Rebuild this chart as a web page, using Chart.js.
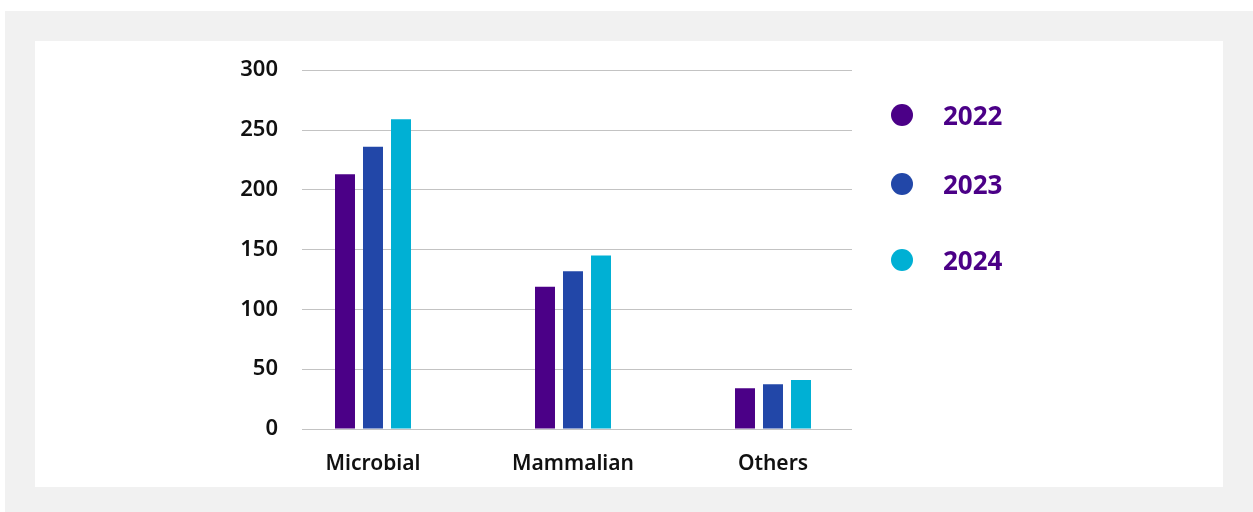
<!DOCTYPE html>
<html>
<head>
<meta charset="utf-8">
<script src="https://cdn.jsdelivr.net/npm/chart.js@4"></script>
<style>
  html, body { margin: 0; padding: 0; background: #fff; }
  body { width: 1253px; height: 512px; position: relative; overflow: hidden; font-family: "Noto Sans", sans-serif; }
  .frame { position: absolute; left: 5px; top: 11px; width: 1248px; height: 501px; background: #f1f1f1; }
  .panel { position: absolute; left: 35px; top: 41px; width: 1188px; height: 446px; background: #fff; }
  /* canvas starts a little above the panel: the y-axis tick padding also pads the top of the plot */
  .panel canvas { position: absolute; left: 0; top: -8px; }
  .legend { position: absolute; left: 856px; top: 0; }
  .legend-item { position: absolute; left: 0; height: 30px; display: flex; align-items: center; white-space: nowrap; }
  .legend-dot { width: 22px; height: 22px; border-radius: 50%; margin-left: 0; }
  .legend-text { margin-left: 30px; font-size: 26px; font-weight: 700; color: #4b0087; }
</style>
</head>
<body>
<div class="frame"></div>
<div class="panel">
  <canvas id="chart" width="1188" height="454"></canvas>
  <div class="legend" id="legend"></div>
</div>
<script>
const categories = ['Microbial', 'Mammalian', 'Others'];
const years = ['2022', '2023', '2024'];
const values2022 = [213, 119, 34];
const values2023 = [236, 132, 37.5];
const values2024 = [259, 145, 41];
const yTicks = [0, 50, 100, 150, 200, 250, 300];
const colors = ['#4b0087', '#2247a8', '#00b0d4'];

const seriesValues = [values2022, values2023, values2024];

// bars sit on a numeric x axis so the groups can be spaced independently of the plot width
const datasets = years.map((year, s) => ({
  label: year,
  data: seriesValues[s].map((v, i) => ({ x: i, y: v })),
  backgroundColor: colors[s],
  borderWidth: 0,
  categoryPercentage: 0.42,
  barPercentage: 0.714
}));

const xFont = { family: 'Noto Sans', size: 21, weight: '600' };
const yFont = { family: 'Noto Sans', size: 22, weight: '600' };

const chart = new Chart(document.getElementById('chart'), {
  type: 'bar',
  data: { datasets: datasets },
  options: {
    responsive: false,
    animation: false,
    layout: { padding: { top: 0, right: 371, left: 0, bottom: 0 } },
    plugins: { legend: { display: false }, tooltip: { enabled: false } },
    scales: {
      x: {
        type: 'linear',
        offset: false,
        min: -0.355,
        max: 2.395,
        grid: { display: false, drawTicks: false },
        border: { display: false },
        ticks: {
          stepSize: 1,
          includeBounds: false,
          autoSkip: false,
          maxRotation: 0,
          padding: 22,
          color: '#111',
          font: xFont,
          callback: v => categories[v] || ''
        },
        afterFit: scale => { scale.height = 58; }
      },
      y: {
        min: 0,
        max: 300,
        afterBuildTicks: scale => { scale.ticks = yTicks.map(v => ({ value: v })); },
        grid: { color: '#c3c3c3', lineWidth: 1, drawTicks: false },
        border: { display: false },
        ticks: { padding: 24, color: '#111', font: yFont },
        afterFit: scale => { scale.width = 267; }
      }
    }
  }
});

// legend rows built from the datasets
const legendEl = document.getElementById('legend');
const legendTops = [59, 128, 204];
chart.data.datasets.forEach((ds, i) => {
  const item = document.createElement('div');
  item.className = 'legend-item';
  item.style.top = legendTops[i] + 'px';
  const dot = document.createElement('span');
  dot.className = 'legend-dot';
  dot.style.background = ds.backgroundColor;
  const text = document.createElement('span');
  text.className = 'legend-text';
  text.textContent = ds.label;
  item.appendChild(dot);
  item.appendChild(text);
  legendEl.appendChild(item);
});
</script>
</body>
</html>
